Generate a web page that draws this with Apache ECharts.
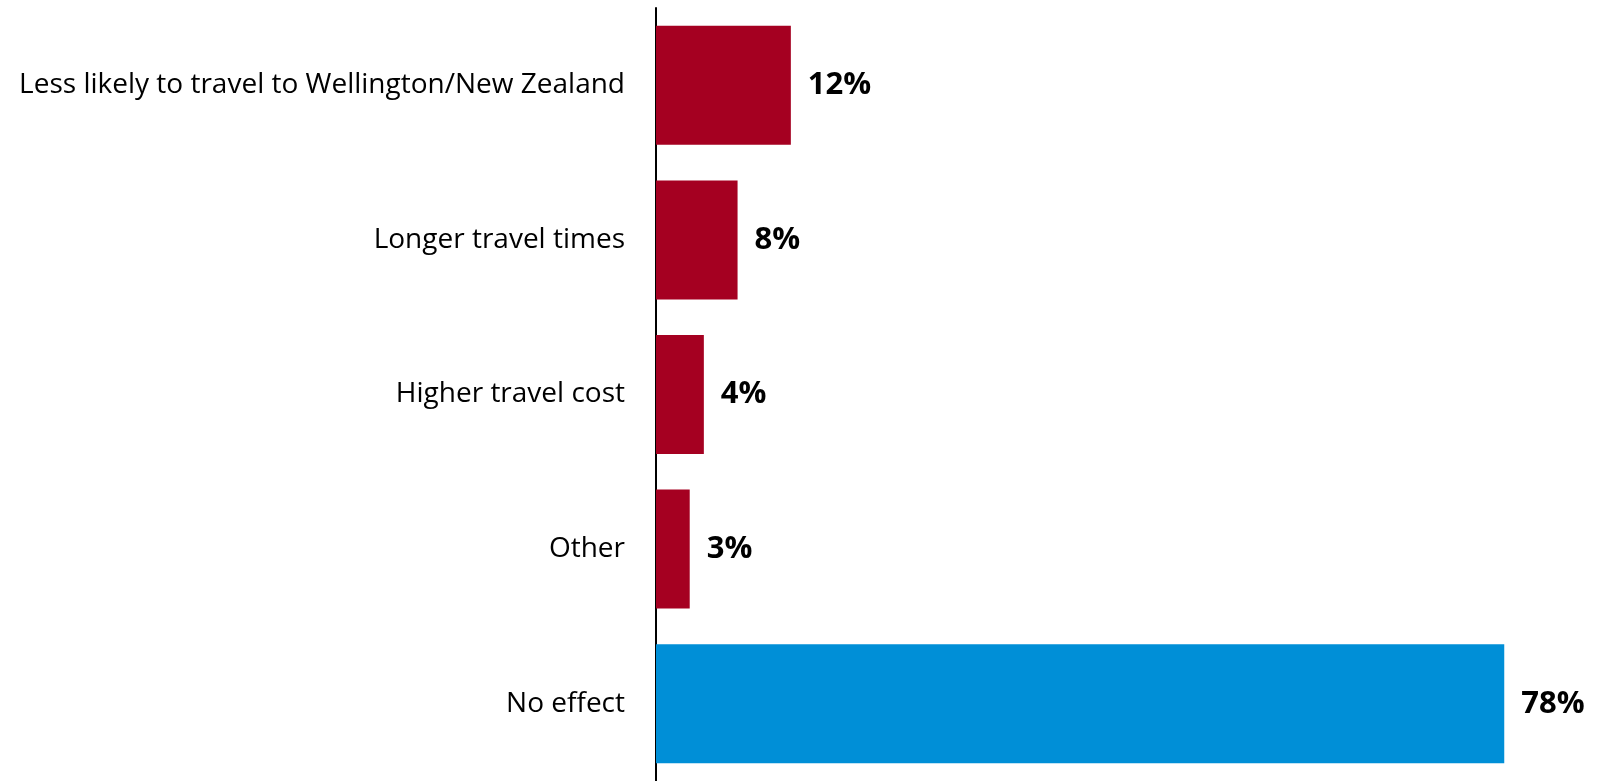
<!DOCTYPE html>
<html><head><meta charset="utf-8">
<script src="https://cdn.jsdelivr.net/npm/echarts@6/dist/echarts.min.js"></script>
<style>html,body{margin:0;padding:0;background:#fff}#c{width:1599px;height:781px}</style>
</head><body><div id="c"></div>
<script>
const categories = ["Less likely to travel to Wellington/New Zealand","Longer travel times","Higher travel cost","Other","No effect"];
const values = [12.4, 7.5, 4.4, 3.1, 78];
const colors = ["#A50021","#A50021","#A50021","#A50021","#008FD7"];

const chart = echarts.init(document.getElementById('c'));
chart.setOption({
  animation: false,
  grid: {left: 656, top: 8, width: 870, height: 776},
  xAxis: {type: 'value', min: 0, max: 80, show: false},
  yAxis: {
    type: 'category', data: categories, inverse: true,
    axisLine: {show: true, lineStyle: {color: '#000', width: 2}},
    axisTick: {show: false},
    axisLabel: {fontFamily: 'Open Sans', fontSize: 28, color: '#000', margin: 31}
  },
  series: [{
    type: 'bar', barCategoryGap: '23%',
    data: values.map((v, i) => ({value: v, itemStyle: {color: colors[i]}})),
    label: {show: true, position: 'right', distance: 17, fontFamily: 'Open Sans', fontWeight: 'bold', fontSize: 31, color: '#000',
      formatter: p => Math.round(p.value) + '%'}
  }]
});
</script></body></html>
